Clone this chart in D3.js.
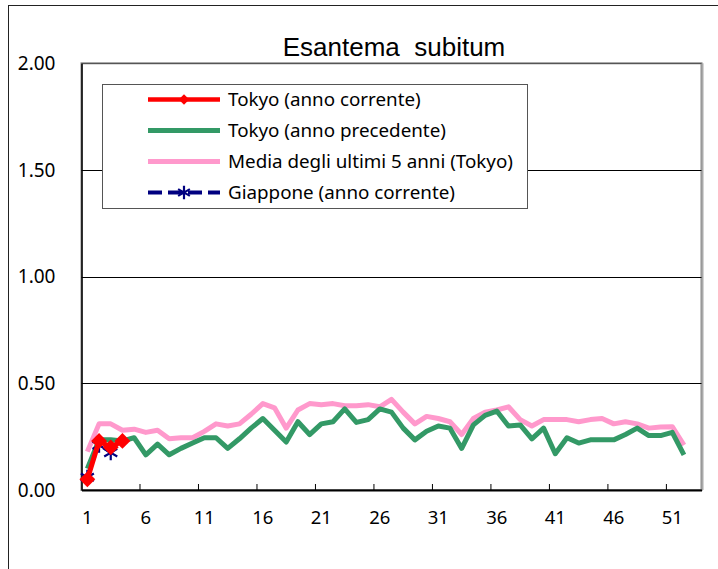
<!DOCTYPE html>
<html>
<head>
<meta charset="utf-8">
<script src="https://cdn.jsdelivr.net/npm/d3@7"></script>
<style>
  body { margin: 0; background: #fff; }
  svg { display: block; }
</style>
</head>
<body>
<svg id="chart" width="718" height="569"></svg>
<script>
// weeks on the category axis
var weeks = d3.range(1, 54)
var weekLabels = [1, 6, 11, 16, 21, 26, 31, 36, 41, 46, 51]
var yTicks = [0, 0.5, 1.0, 1.5, 2.0]

// per-week values
var tokyoCurrent = [0.05, 0.23, 0.20, 0.23]
var tokyoPrevious = [0.10, 0.235, 0.235, 0.23, 0.245, 0.165, 0.215, 0.165, 0.195, 0.22,
  0.245, 0.245, 0.195, 0.24, 0.29, 0.335, 0.28, 0.225, 0.32, 0.26,
  0.31, 0.32, 0.38, 0.317, 0.33, 0.38, 0.365, 0.29, 0.235, 0.275,
  0.30, 0.29, 0.195, 0.305, 0.35, 0.37, 0.30, 0.305, 0.24, 0.29,
  0.17, 0.245, 0.22, 0.235, 0.235, 0.235, 0.26, 0.29, 0.255, 0.255,
  0.27, 0.165]
var avg5y = [0.18, 0.31, 0.31, 0.28, 0.285, 0.27, 0.28, 0.24, 0.245, 0.245,
  0.275, 0.31, 0.30, 0.31, 0.355, 0.405, 0.385, 0.29, 0.375, 0.405,
  0.40, 0.405, 0.395, 0.395, 0.40, 0.39, 0.425, 0.365, 0.31, 0.345,
  0.335, 0.32, 0.26, 0.335, 0.365, 0.375, 0.39, 0.33, 0.30, 0.33,
  0.33, 0.33, 0.32, 0.33, 0.335, 0.31, 0.32, 0.31, 0.29, 0.295,
  0.297, 0.21]
var japanCurrent = [0.06, 0.21, 0.175]

var seriesNames = ["Tokyo (anno corrente)", "Tokyo (anno precedente)", "Media degli ultimi 5 anni (Tokyo)", "Giappone (anno corrente)"]

red = "#FF0000"
green = "#339966"
pink = "#FF99CC"
navy = "#000080"

var svg = d3.select("#chart")

var plotLeft = 81.5, plotRight = 701.5, plotTop = 63.3, plotBottom = 490

var x = d3.scaleBand().domain(weeks).range([plotLeft, plotRight]).padding(0)
var y = d3.scaleLinear().domain([0, 2]).range([plotBottom, plotTop])
var cx = function (w) { return x(w) + x.bandwidth() / 2 }

// outer chart frame
svg.append("rect")
  .attr("x", 8.5).attr("y", 5.5)
  .attr("width", 760).attr("height", 600)
  .style("fill", "none").style("stroke", "#222")

// title
svg.append("text")
  .attr("x", 394).attr("y", 56)
  .attr("text-anchor", "middle")
  .style("font-family", "'Liberation Sans', Arial, sans-serif")
  .style("font-size", "26px")
  .style("white-space", "pre")
  .text("Esantema  subitum")

// plot border
svg.append("rect")
  .attr("x", plotLeft).attr("y", plotTop)
  .attr("width", plotRight - plotLeft).attr("height", plotBottom - plotTop)
  .style("fill", "#fff").style("stroke", "#888").style("stroke-width", 2)
svg.append("line")
  .attr("x1", plotRight + 1).attr("x2", plotRight + 1)
  .attr("y1", plotTop).attr("y2", plotBottom)
  .style("stroke", "#aaa").style("stroke-width", 2)

// grid lines
svg.append("g").selectAll("line")
  .data(yTicks.slice(1))
  .join("line")
  .attr("x1", plotLeft).attr("x2", plotRight)
  .attr("y1", function (d) { return Math.round(y(d)) + 0.5 })
  .attr("y2", function (d) { return Math.round(y(d)) + 0.5 })
  .style("stroke", function (d) { return d == 2 ? "#555" : "#000" })
  .style("stroke-width", 1)

// y axis
var yAxis = svg.append("g")
  .attr("transform", "translate(" + plotLeft + ",0)")
  .call(d3.axisLeft(y).tickValues(yTicks).tickFormat(d3.format(".2f")).tickSize(0).tickPadding(26))
yAxis.select(".domain").style("stroke", "#000").style("stroke-width", 1.5)
yAxis.selectAll("text")
  .style("font-family", "'Noto Sans', sans-serif")
  .style("font-size", "19px")
  .style("fill", "#000")

// x axis: labels at week centres, tick marks between categories
var xAxis = svg.append("g")
  .attr("transform", "translate(0," + plotBottom + ")")
  .call(d3.axisBottom(x).tickValues(weekLabels).tickSize(0).tickPadding(21))
xAxis.select(".domain").style("stroke", "#000").style("stroke-width", 2)
xAxis.selectAll("text")
  .style("font-family", "'Noto Sans', sans-serif")
  .style("font-size", "18.5px")
  .style("fill", "#000")

svg.append("g").selectAll("line")
  .data(weekLabels.slice(1))
  .join("line")
  .attr("x1", function (d) { return x(d) })
  .attr("x2", function (d) { return x(d) })
  .attr("y1", plotBottom).attr("y2", plotBottom - 6)
  .style("stroke", "#000")

var line = d3.line()
  .x(function (d, i) { return cx(weeks[i]) })
  .y(function (d) { return y(d) })

svg.append("path").datum(avg5y).attr("d", line)
  .style("fill", "none").style("stroke", pink).style("stroke-width", 5).style("stroke-linejoin", "round")

svg.append("path").datum(tokyoPrevious).attr("d", line)
  .style("fill", "none").style("stroke", green).style("stroke-width", 5).style("stroke-linejoin", "round")

// Japan current: dashed navy with star markers
svg.append("path").datum(japanCurrent).attr("d", line)
  .style("fill", "none").style("stroke", navy).style("stroke-width", 3).style("stroke-dasharray", "9,4")

var star = d3.symbol().type(d3.symbolAsterisk).size(160)
svg.append("g").selectAll("path")
  .data(japanCurrent)
  .join("path")
  .attr("transform", function (d, i) { return "translate(" + cx(weeks[i]) + "," + y(d) + ")" })
  .attr("d", star)
  .style("fill", "none").style("stroke", navy).style("stroke-width", 2.2)

// Tokyo current: red with diamonds
svg.append("path").datum(tokyoCurrent).attr("d", line)
  .style("fill", "none").style("stroke", red).style("stroke-width", 5)

var diamond = d3.symbol().type(d3.symbolDiamond2).size(160)
svg.append("g").selectAll("path")
  .data(tokyoCurrent)
  .join("path")
  .attr("transform", function (d, i) { return "translate(" + cx(weeks[i]) + "," + y(d) + ")" })
  .attr("d", diamond)
  .style("fill", red)

// legend
var legend = svg.append("g")
legend.append("rect")
  .attr("x", 102.5).attr("y", 84.5)
  .attr("width", 425).attr("height", 124)
  .style("fill", "#fff").style("stroke", "#555").style("stroke-width", 1)

var legendColors = [red, green, pink, navy]
var legendWidths = [4.5, 5, 5, 4]
seriesNames.forEach(function (name, i) {
  var ly = 99.5 + i * 31
  var row = legend.append("g")
  var l = row.append("line")
    .attr("x1", 148).attr("x2", 220)
    .attr("y1", ly).attr("y2", ly)
    .style("stroke", legendColors[i])
    .style("stroke-width", legendWidths[i])
  if (i == 3) l.style("stroke-dasharray", "14,6")
  if (i == 0) {
    row.append("path").attr("transform", "translate(184," + ly + ")")
      .attr("d", d3.symbol().type(d3.symbolDiamond2).size(70)).style("fill", red)
  }
  if (i == 3) {
    row.append("path").attr("transform", "translate(184," + ly + ")")
      .attr("d", d3.symbol().type(d3.symbolAsterisk).size(130))
      .style("fill", "none").style("stroke", navy).style("stroke-width", 2.2)
  }
  row.append("text")
    .attr("x", 228).attr("y", ly + 6)
    .style("font-family", "'Noto Sans', sans-serif")
    .style("font-size", "18.8px")
    .text(name)
})
</script>
</body>
</html>
